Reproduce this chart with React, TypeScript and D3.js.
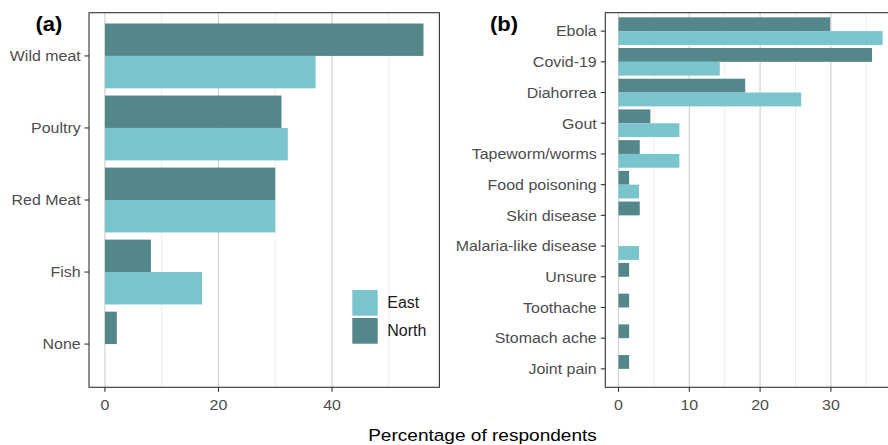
import React from "react";
import * as d3 from "d3";

const foodCategories = ["Wild meat", "Poultry", "Red Meat", "Fish", "None"];
const foodNorth: (number | null)[] = [56.1, 31.1, 30.0, 8.1, 2.1];
const foodEast: (number | null)[] = [37.1, 32.2, 30.0, 17.1, null];
const foodTicks = [0, 20, 40];
const foodMinor = [10, 30, 50];

const diseaseCategories = [
  "Ebola", "Covid-19", "Diahorrea", "Gout", "Tapeworm/worms", "Food poisoning",
  "Skin disease", "Malaria-like disease", "Unsure", "Toothache", "Stomach ache", "Joint pain",
];
const diseaseNorth: (number | null)[] = [29.9, 35.8, 17.9, 4.5, 3.0, 1.5, 3.0, null, 1.5, 1.5, 1.5, 1.5];
const diseaseEast: (number | null)[] = [37.3, 14.3, 25.8, 8.6, 8.6, 2.9, null, 2.9, null, null, null, null];
const diseaseTicks = [0, 10, 20, 30];
const diseaseMinor = [5, 15, 25, 35];

const seriesNames = ["East", "North"];
const COL_EAST = "#7AC4CD";
const COL_NORTH = "#53878A";
const FONT = "'Liberation Sans', Arial, Helvetica, sans-serif";

const T = ({ x, y, sx = 1, size, anchor = "start", fill = "#4d4d4d", weight = "normal", children }: any) => (
  <text
    transform={`translate(${x},${y}) scale(${sx},1)`}
    fontSize={size}
    textAnchor={anchor}
    fill={fill}
    fontWeight={weight}
    fontFamily={FONT}
  >
    {children}
  </text>
);

function Panel({ cats, north, east, ticks, minor, left, right, top, bottom, label, labelX, tickLabelGap }: any) {
  const all = [...north, ...east].filter((v: any) => v != null) as number[];
  const max = d3.max(all) as number;
  const pad = max * 0.05;
  const x = d3.scaleLinear().domain([-pad, max + pad]).range([left, right]);
  const y = d3.scaleBand<string>().domain(cats).range([top, bottom]).paddingInner(0).paddingOuter(0.1);
  const step = y.bandwidth();
  const half = step * 0.45;
  return (
    <g>
      <defs>
        <clipPath id={`clip-${label}`}>
          <rect x={left} y={top} width={right - left} height={bottom - top} />
        </clipPath>
      </defs>
      <rect x={left} y={top} width={right - left} height={bottom - top} fill="#fff" />
      {minor.map((t: number) => (
        <line key={"m" + t} x1={x(t)} x2={x(t)} y1={top} y2={bottom} stroke="#ededed" strokeWidth={1} />
      ))}
      {ticks.map((t: number) => (
        <line key={"M" + t} x1={x(t)} x2={x(t)} y1={top} y2={bottom} stroke="#d2d2d2" strokeWidth={1.2} />
      ))}
      <g clipPath={`url(#clip-${label})`}>
        {cats.map((c: string, i: number) => {
          const cy = (y(c) as number) + step / 2;
          const n = north[i];
          const e = east[i];
          return (
            <g key={c}>
              {n != null && (
                <rect x={x(0)} y={cy - half} width={x(n) - x(0)} height={half} fill={COL_NORTH} />
              )}
              {e != null && (
                <rect x={x(0)} y={cy} width={x(e) - x(0)} height={half} fill={COL_EAST} />
              )}
            </g>
          );
        })}
      </g>
      <rect x={left} y={top} width={right - left} height={bottom - top} fill="none" stroke="#333" strokeWidth={1.1} />
      {cats.map((c: string) => {
        const cy = (y(c) as number) + step / 2;
        return (
          <g key={"t" + c}>
            <line x1={left - 4.5} x2={left} y1={cy} y2={cy} stroke="#333" strokeWidth={1.1} />
            <T x={left - tickLabelGap} y={cy + 5.3} sx={1.05} size={15.2} anchor="end">{c}</T>
          </g>
        );
      })}
      {ticks.map((t: number) => (
        <g key={"xt" + t}>
          <line x1={x(t)} x2={x(t)} y1={bottom} y2={bottom + 4.5} stroke="#333" strokeWidth={1.1} />
          <T x={x(t)} y={410} sx={1.08} size={14.8} anchor="middle">{t}</T>
        </g>
      ))}
      <T x={labelX} y={30.5} sx={1.1} size={20} anchor="start" fill="#000" weight="bold">{`(${label})`}</T>
    </g>
  );
}

export default function App() {
  const top = 12.7;
  const bottom = 387.3;
  return (
    <svg width={888} height={445} style={{ position: "absolute", left: 0, top: 0, background: "#fff" }}>
      <rect width={888} height={445} fill="#fff" />
      <Panel cats={foodCategories} north={foodNorth} east={foodEast} ticks={foodTicks} minor={foodMinor}
        left={89} right={439.4} top={top} bottom={bottom} label="a" labelX={35.5} tickLabelGap={8.3} />
      <Panel cats={diseaseCategories} north={diseaseNorth} east={diseaseEast} ticks={diseaseTicks} minor={diseaseMinor}
        left={605.3} right={895.8} top={top} bottom={bottom} label="b" labelX={490} tickLabelGap={8.6} />
      {seriesNames.map((s, i) => (
        <g key={s}>
          <rect x={352.3} y={290 + i * 28} width={25.4} height={25.7} fill={s === "East" ? COL_EAST : COL_NORTH} />
          <T x={387.3} y={308.3 + i * 27.8} size={16} fill="#1a1a1a">{s}</T>
        </g>
      ))}
      <T x={482.5} y={440.7} sx={1.17} size={16.3} anchor="middle" fill="#000">Percentage of respondents</T>
    </svg>
  );
}
